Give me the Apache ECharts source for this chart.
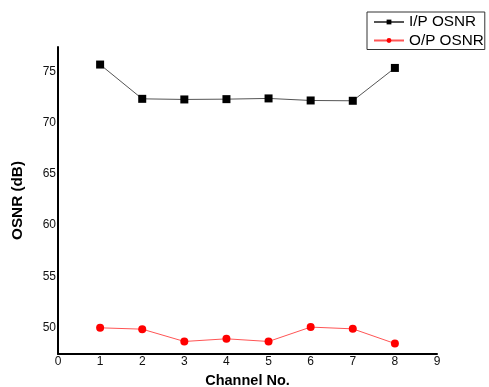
<!DOCTYPE html>
<html><head><meta charset="utf-8">
<script src="https://cdn.jsdelivr.net/npm/echarts@6/dist/echarts.min.js"></script>
<style>html,body{margin:0;padding:0;background:#fff}#c{width:489px;height:387px}</style>
</head><body><div id="c"></div>
<script>
const channels = [1, 2, 3, 4, 5, 6, 7, 8];
const ipOsnr = [75.65, 72.31, 72.25, 72.28, 72.35, 72.15, 72.12, 75.32];
const opOsnr = [50.0, 49.87, 48.67, 48.93, 48.67, 50.07, 49.9, 48.47];
const yTicks = [50, 55, 60, 65, 70, 75];
const seriesNames = ['I/P OSNR', 'O/P OSNR'];

const font = 'Liberation Sans, Arial, sans-serif';
const chart = echarts.init(document.getElementById('c'), null, {renderer: 'canvas'});
chart.setOption({
  animation: false,
  backgroundColor: '#fff',
  grid: {left: 58, right: 52, top: 47, bottom: 33, outerBoundsMode: 'none', containLabel: false},
  legend: {
    orient: 'vertical', left: 367, top: 12,
    padding: [2, 1, 1, 6], itemGap: 2.5, itemWidth: 30, itemHeight: 6, itemTextGap: 12,
    borderColor: '#333', borderWidth: 1,
    textStyle: {fontFamily: font, fontSize: 15.3, color: '#000', lineHeight: 16},
    data: seriesNames
  },
  xAxis: {
    type: 'value', min: 0, max: 9, interval: 1,
    name: 'Channel No.', nameLocation: 'middle', nameGap: 19,
    nameTextStyle: {fontFamily: font, fontSize: 14.5, fontWeight: 'bold', color: '#000'},
    axisLine: {show: true, onZero: false, lineStyle: {color: '#000', width: 2}},
    axisTick: {show: false},
    splitLine: {show: false},
    axisLabel: {fontFamily: font, fontSize: 12, color: '#111', margin: 2}
  },
  yAxis: {
    type: 'value', min: 47.45, max: 77.36,
    name: 'OSNR (dB)', nameLocation: 'middle', nameGap: 33,
    nameTextStyle: {fontFamily: font, fontSize: 15.3, fontWeight: 'bold', color: '#000'},
    axisLine: {show: true, lineStyle: {color: '#000', width: 2}},
    axisTick: {show: false},
    splitLine: {show: false},
    axisLabel: {fontFamily: font, fontSize: 12, color: '#111', margin: 2, customValues: yTicks}
  },
  series: [
    {
      name: seriesNames[0], type: 'line',
      data: channels.map((c, i) => [c, ipOsnr[i]]),
      symbol: 'rect', symbolSize: 8,
      itemStyle: {color: '#000'},
      lineStyle: {color: '#555', width: 1}
    },
    {
      name: seriesNames[1], type: 'line',
      data: channels.map((c, i) => [c, opOsnr[i]]),
      symbol: 'circle', symbolSize: 8,
      itemStyle: {color: '#ff0000'},
      lineStyle: {color: '#ff5555', width: 1}
    }
  ]
});
</script></body></html>
